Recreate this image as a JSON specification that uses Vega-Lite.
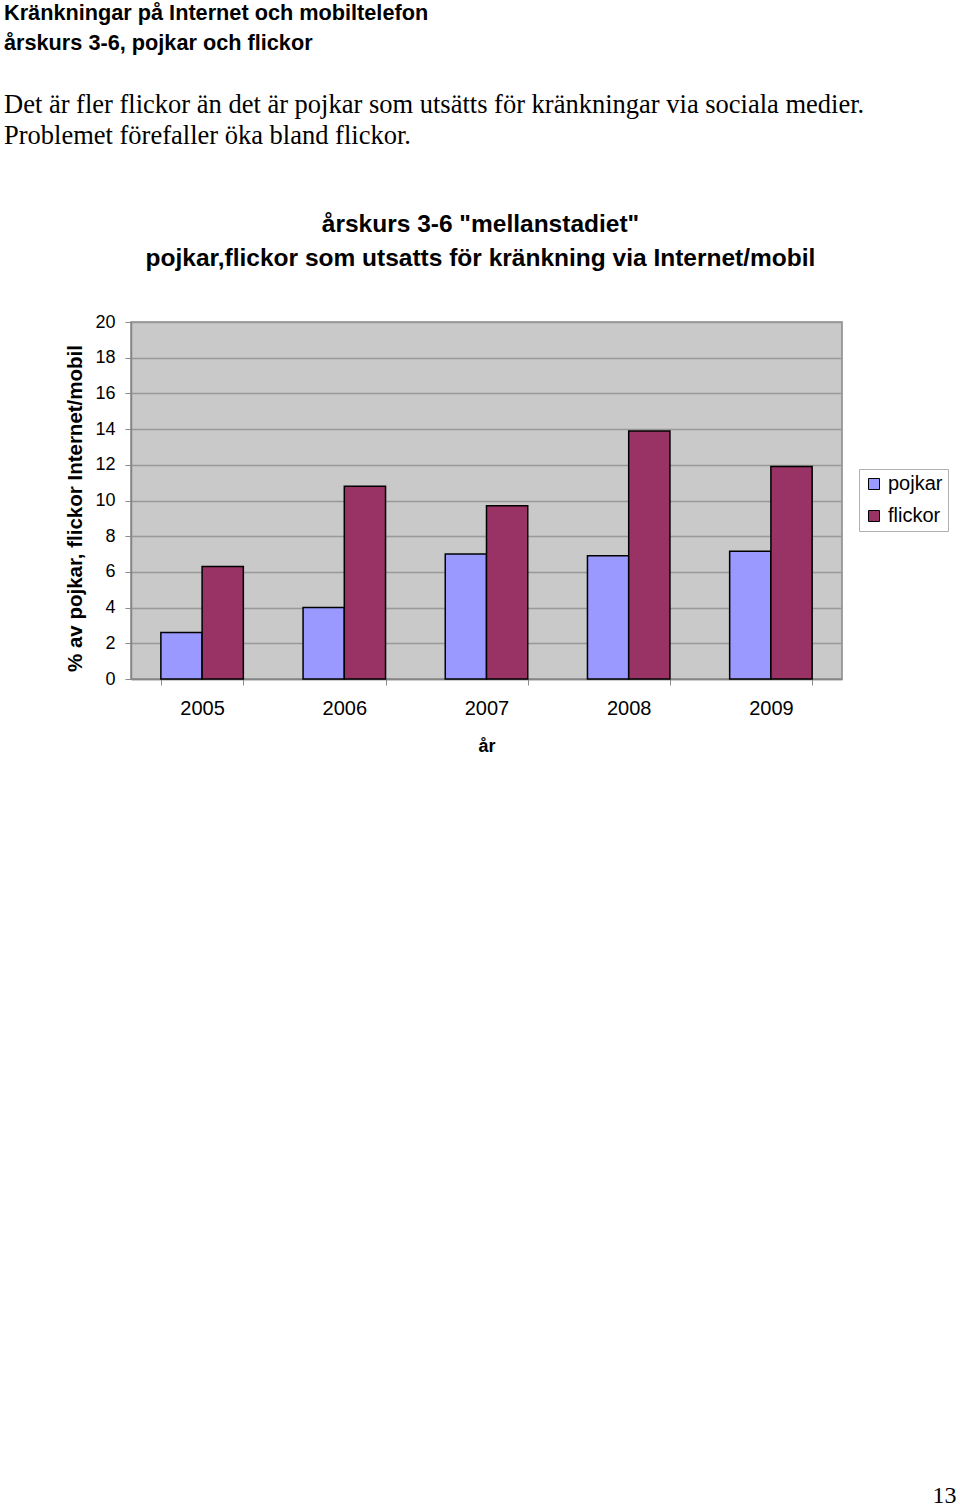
{
  "$schema": "https://vega.github.io/schema/vega-lite/v6.json",
  "width": 711,
  "height": 357,
  "autosize": "none",
  "padding": {"left": 131, "top": 322, "right": 118, "bottom": 829},
  "background": "white",
  "title": {
    "text": ["Kränkningar på Internet och mobiltelefon", "årskurs 3-6, pojkar och flickor"],
    "subtitle": ["Det är fler flickor än det är pojkar som utsätts för kränkningar via sociala medier.", "Problemet förefaller öka bland flickor."],
    "anchor": "start",
    "frame": "group",
    "dx": -127,
    "offset": 61,
    "font": "Liberation Sans",
    "fontSize": 21.7,
    "fontWeight": "bold",
    "color": "black",
    "lineHeight": 30,
    "subtitleFont": "Liberation Serif",
    "subtitleFontSize": 26.5,
    "subtitleColor": "black",
    "subtitleLineHeight": 31,
    "subtitlePadding": 38
  },
  "config": {
    "view": {"fill": "#c9c9c9", "stroke": "#868686", "strokeWidth": 1.5},
    "axis": {"labelFont": "Liberation Sans", "titleFont": "Liberation Sans", "labelColor": "black", "titleColor": "black"}
  },
  "data": {
    "values": [
      {"year": "2005", "kon": "pojkar", "value": 2.6},
      {"year": "2005", "kon": "flickor", "value": 6.3},
      {"year": "2006", "kon": "pojkar", "value": 4.0},
      {"year": "2006", "kon": "flickor", "value": 10.8},
      {"year": "2007", "kon": "pojkar", "value": 7.0},
      {"year": "2007", "kon": "flickor", "value": 9.7},
      {"year": "2008", "kon": "pojkar", "value": 6.9},
      {"year": "2008", "kon": "flickor", "value": 13.9},
      {"year": "2009", "kon": "pojkar", "value": 7.15},
      {"year": "2009", "kon": "flickor", "value": 11.9}
    ]
  },
  "layer": [
    {
      "mark": {"type": "bar", "stroke": "black", "strokeWidth": 1.5},
      "encoding": {
        "x": {
          "field": "year", "type": "nominal", "sort": "ascending",
          "scale": {"paddingInner": 0.42, "paddingOuter": 0.21},
          "axis": {
            "title": "år", "titleFontSize": 18, "titleFontWeight": "bold", "titlePadding": 19,
            "labelAngle": 0, "labelFontSize": 20, "labelPadding": 13,
            "tickBand": "extent", "tickSize": 6, "tickColor": "#8a8a8a", "domainColor": "#868686", "domainWidth": 1.5
          }
        },
        "xOffset": {"field": "kon", "type": "nominal", "scale": {"domain": ["pojkar", "flickor"], "paddingInner": 0, "paddingOuter": 0}},
        "y": {
          "field": "value", "type": "quantitative",
          "scale": {"domain": [0, 20]},
          "axis": {
            "title": "% av pojkar, flickor Internet/mobil", "titleFontSize": 20.5, "titleFontWeight": "bold", "titlePadding": 9,
            "titleY": 186,
            "values": [0, 2, 4, 6, 8, 10, 12, 14, 16, 18, 20],
            "labelFontSize": 18, "labelPadding": 10, "tickSize": 6, "tickColor": "#8a8a8a",
            "domainColor": "#868686", "domainWidth": 1.5,
            "grid": true, "gridColor": "#999999", "gridWidth": 1.3
          }
        },
        "color": {
          "field": "kon", "type": "nominal",
          "scale": {"domain": ["pojkar", "flickor"], "range": ["#9999ff", "#993366"]},
          "legend": {
            "title": null, "orient": "none", "legendX": 728, "legendY": 147,
            "symbolType": "square", "symbolSize": 121, "symbolStrokeColor": "black", "symbolStrokeWidth": 1,
            "labelFont": "Liberation Sans", "labelFontSize": 20, "labelColor": "black", "rowPadding": 12,
            "strokeColor": "#b0b0b0", "fillColor": "white", "padding": 5, "labelOffset": 4
          }
        }
      }
    },
    {
      "mark": {"type": "bar", "opacity": 0},
      "encoding": {
        "x": {
          "field": "year", "type": "nominal",
          "axis": {
            "orient": "top", "labels": false, "ticks": false, "domain": false,
            "title": ["årskurs 3-6 \"mellanstadiet\"", "pojkar,flickor som utsatts för kränkning via Internet/mobil"],
            "titleFontSize": 24.5, "titleFontWeight": "bold", "titleLineHeight": 34,
            "titleX": 349, "titleY": -91, "titleAlign": "center", "titleBaseline": "alphabetic"
          }
        },
        "y": {
          "field": "value", "type": "quantitative", "scale": {"domain": [0, 20]},
          "axis": {
            "orient": "right", "labels": false, "ticks": false, "domain": false, "grid": false,
            "title": "13", "titleAngle": 0, "titleFont": "Liberation Serif", "titleFontWeight": "normal", "titleFontSize": 24,
            "titleX": 102, "titleY": 1180, "titleAlign": "center", "titleBaseline": "alphabetic"
          }
        }
      }
    }
  ],
  "resolve": {"scale": {"x": "independent", "y": "independent"}, "axis": {"x": "independent", "y": "independent"}}
}
